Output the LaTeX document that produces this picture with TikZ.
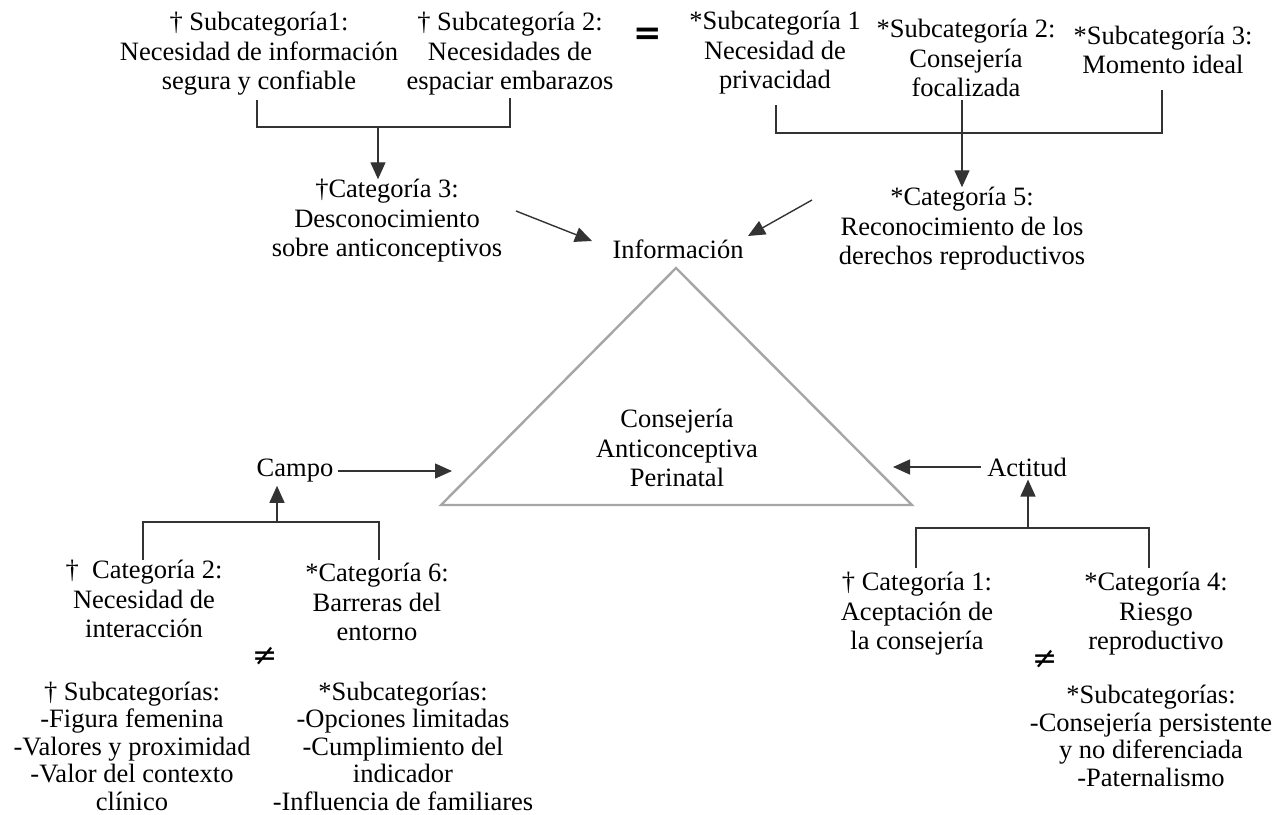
\documentclass[tikz,border=0pt]{standalone}
\usepackage{fontspec}
\setmainfont{Liberation Serif}
\newfontfamily\symfont{DejaVu Sans}
\usetikzlibrary{arrows.meta,calc}
\begin{document}
\begin{tikzpicture}[x=1pt,y=-1pt,
  txt/.style={align=center, inner sep=0pt, font=\fontsize{26.5}{29.5}\selectfont},
  sub/.style={align=center, inner sep=0pt, font=\fontsize{26.5}{27.5}\selectfont},
  rel/.style={inner sep=0pt, font=\symfont\fontsize{30}{30}\selectfont},
  ln/.style={draw=black!80, line width=1.4pt},
  arr/.style={ln, -{Triangle[length=17pt,width=15pt]}},
  tri/.style={draw=black!35, line width=2.4pt, line join=miter}]
\useasboundingbox (0,0) rectangle (1277,814);
% top row
\node[txt] (s1) at (259,54) {† Subcategoría1:\\Necesidad de información\\segura y confiable};
\node[txt] (s2) at (510,54) {† Subcategoría 2:\\Necesidades de\\espaciar embarazos};
\node[rel, font=\symfont\bfseries\fontsize{34}{34}\selectfont] (eq) at (648,36) {=};
\node[txt] (r1) at (775,53) {*Subcategoría 1\\Necesidad de\\privacidad};
\node[txt] (r2) at (966,58) {*Subcategoría 2:\\Consejería\\focalizada};
\node[txt] (r3) at (1163,50) {*Subcategoría 3:\\Momento ideal};
% categories
\node[txt] (cat3) at (387,221) {†Categoría 3:\\Desconocimiento\\sobre anticonceptivos};
\node[txt] (cat5) at (962,229) {*Categoría 5:\\Reconocimiento de los\\derechos reproductivos};
\node[txt] (info) at (678,249) {Información};
% triangle
\coordinate (ta) at (676,268);
\coordinate (tl) at (441,505);
\coordinate (tr) at (912,505);
\draw[tri] (ta) -- (tl) -- (tr) -- cycle;
\node[txt] (core) at (677,448) {Consejería\\Anticonceptiva\\Perinatal};
% side labels
\node[txt] (campo) at (295,471) {Campo};
\node[txt] (actitud) at (1027,467) {Actitud};
% lower categories
\node[txt] (cat2) at (144,599) {†\ \ Categoría 2:\\Necesidad de\\interacción};
\node[txt] (cat6) at (377,602) {*Categoría 6:\\Barreras del\\entorno};
\node[rel] (ne1) at (265,656) {≠};
\node[sub] (subl) at (132,746) {† Subcategorías:\\-Figura femenina\\-Valores y proximidad\\-Valor del contexto\\clínico};
\node[sub] (subm) at (403,746) {*Subcategorías:\\-Opciones limitadas\\-Cumplimiento del\\indicador\\-Influencia de familiares};
\node[txt] (cat1) at (917,614) {† Categoría 1:\\Aceptación de\\la consejería};
\node[txt] (cat4) at (1156,614) {*Categoría 4:\\Riesgo\\reproductivo};
\node[rel] (ne2) at (1045,659) {≠};
\node[sub] (subr) at (1151,736) {*Subcategorías:\\-Consejería persistente\\y no diferenciada\\-Paternalismo};
% top-left bracket
\coordinate (a1) at (257,100);
\coordinate (a2) at (510,98);
\coordinate (ja) at (378,127);
\draw[ln] (a1) |- (ja) -| (a2);
\draw[arr] (ja) -- (ja |- cat3.north);
% top-right bracket
\coordinate (b1) at (776,105);
\coordinate (b2) at (962,100);
\coordinate (b3) at (1162,90);
\coordinate (jb) at (962,133);
\draw[ln] (b1) |- (jb) -| (b3);
\draw[ln] (b2) -- (jb);
\draw[arr] (jb) -- (jb |- cat5.north);
% arrows to Informacion
\coordinate (t1) at (516,211);
\coordinate (h1) at (592,241);
\draw[arr] (t1) -- (h1);
\coordinate (t2) at (812,200);
\coordinate (h2) at (748,236);
\draw[arr] (t2) -- (h2);
% Campo
\coordinate (h3) at (452,471);
\draw[arr] ([xshift=5pt]campo.east) -- (h3);
\coordinate (c1) at (143,560);
\coordinate (c2) at (379,560);
\coordinate (jc) at (277,522);
\draw[ln] (c1) |- (jc) -| (c2);
\draw[arr] (jc) -- ([yshift=-3pt]jc |- campo.south);
% Actitud
\coordinate (h4) at (893,467);
\draw[arr] ([xshift=-6pt]actitud.west) -- (h4);
\coordinate (d1) at (916,568);
\coordinate (d2) at (1149,568);
\coordinate (jd) at (1028,528);
\draw[ln] (d1) |- (jd) -| (d2);
\draw[arr] (jd) -- ([yshift=-3pt]jd |- actitud.south);
\end{tikzpicture}
\end{document}
